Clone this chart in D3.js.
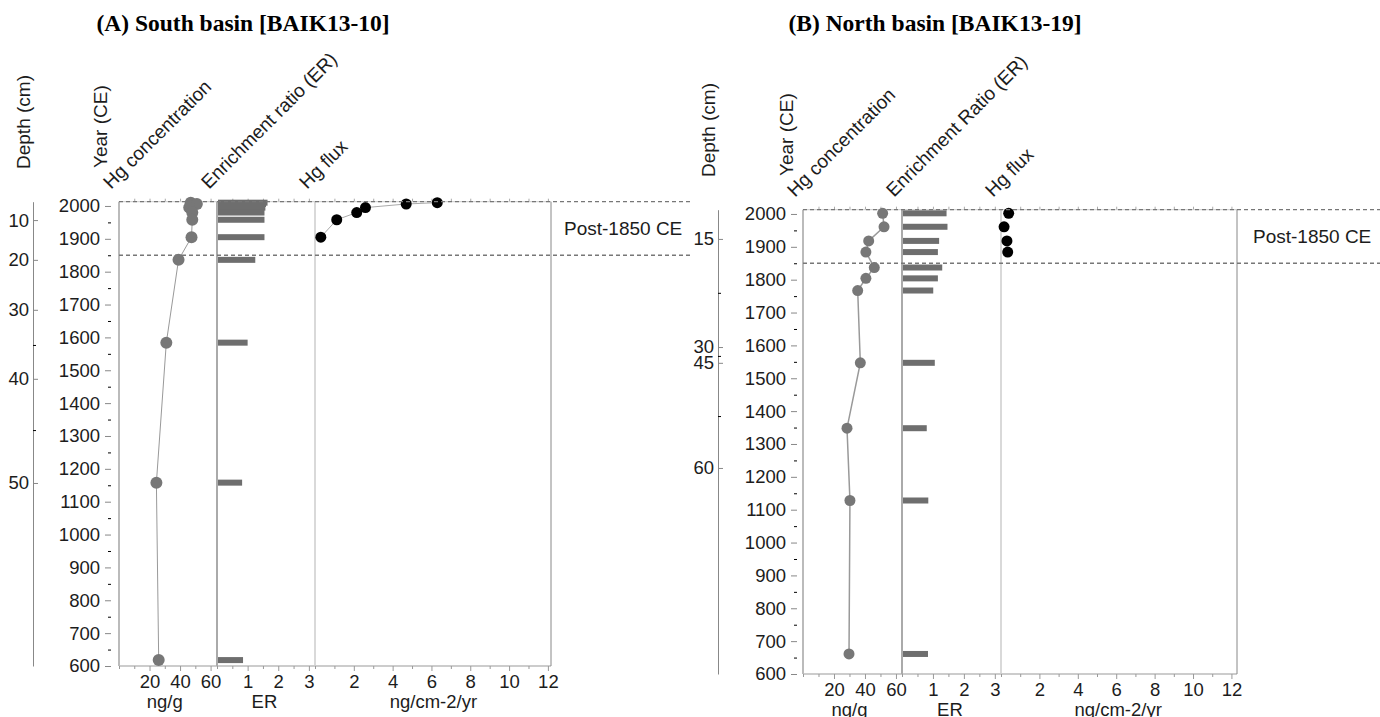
<!DOCTYPE html>
<html>
<head>
<meta charset="utf-8">
<script src="https://cdn.jsdelivr.net/npm/d3@7"></script>
<style>
    body { margin: 0; background: #fff; }
    svg text { font-family: "Liberation Sans", Arial, sans-serif; fill: #1c1c1c; }
    svg .title { font-family: "Liberation Serif", "Times New Roman", serif; font-weight: bold; fill: #000; }
</style>
</head>
<body>
<svg id="chart" width="1380" height="717"></svg>
<script>

// ---- data ----
var yearTicks = [600, 700, 800, 900, 1000, 1100, 1200, 1300, 1400, 1500, 1600, 1700, 1800, 1900, 2000];
var hgTicks = [20, 40, 60];
var erTicks = [1, 2, 3];
var fluxTicks = [2, 4, 6, 8, 10, 12];

// south basin, BAIK13-10
var southYears = [2010, 2006, 1995, 1980, 1958, 1905, 1836, 1584, 1158, 618];
var southHg = [47, 51, 46, 48, 48, 47.5, 39, 31, 24.5, 26];
var southER = [1.65, 1.6, 1.58, 1.55, 1.55, 1.55, 1.25, 1.0, 0.82, 0.85];
var southFluxYears = [2010, 2006, 1995, 1980, 1958, 1905];
var southFlux = [6.3, 4.7, 2.6, 2.15, 1.12, 0.3];
var southDepthLabels = [10, 20, 30, 40, 50];
var southDepthYears = [1957, 1836, 1684, 1474, 1157];
var southDepthMinorYears = [1577, 1318];

// north basin, BAIK13-19
var northYears = [2002, 1961, 1918, 1884, 1837, 1804, 1767, 1547, 1348, 1128, 661];
var northHg = [51.4, 52.3, 42.4, 40.6, 46, 40.6, 35.3, 37, 28.4, 30.3, 29.7];
var northER = [1.44, 1.47, 1.2, 1.16, 1.3, 1.16, 1.01, 1.06, 0.8, 0.85, 0.84];
var northFluxYears = [2002, 1961, 1918, 1884];
var northFlux = [0.4, 0.16, 0.31, 0.35];
var northDepthLabels = [15, 30, 45, 60];
var northDepthYears = [1924, 1595, 1547, 1227];
var northDepthMinorYears = [1760, 1568, 1385];

var coreTop = 2013;
var post1850 = 1850;

var svg = d3.select('#chart');

function drawPanel(p) {

    var g = svg.append('g');

    var y = d3.scaleLinear().domain([600, coreTop]).range([p.bottom, p.bottom - (coreTop - 600) * 0.3286]);
    var top = y(coreTop);

    var xHg = d3.scaleLinear().domain([0, p.hgMax]).range([p.x0, p.x1]);
    var xER = d3.scaleLinear().domain([0, 3.2]).range([p.x1, p.x2]);
    var xFlux = d3.scaleLinear().domain([0, p.fluxMax]).range([p.x2, p.x3]);

    // title
    g.append('text')
        .attr('class', 'title')
        .attr('x', p.titleX)
        .attr('y', 31)
        .attr('text-anchor', 'middle')
        .style('font-size', '23.5px')
        .text(p.title);

    // vertical headers
    g.append('text')
        .attr('transform', 'translate(' + p.depthLabelX + ',' + (p.bottom - 497) + ') rotate(-90)')
        .style('font-size', '19px')
        .text('Depth (cm)');
    g.append('text')
        .attr('transform', 'translate(' + p.yearLabelX + ',' + (p.bottom - 498) + ') rotate(-90)')
        .style('font-size', '19px')
        .text('Year (CE)');

    // slanted headers
    var heads = [
        { text: 'Hg concentration', x: p.x0 - 8 },
        { text: p.erTitle, x: p.x1 - 8 },
        { text: 'Hg flux', x: p.x2 - 8 }
    ];
    g.selectAll('.head')
        .data(heads)
        .enter().append('text')
        .attr('class', 'head')
        .attr('transform', d => 'translate(' + d.x + ',' + (top - 12) + ') rotate(-45)')
        .style('font-size', '19px')
        .text(d => d.text);

    // depth axis
    var depthAxis = g.append('g')
        .attr('transform', 'translate(' + p.depthX + ',0)')
        .call(d3.axisLeft(y)
            .tickValues(p.depthYears)
            .tickFormat((d, i) => p.depthLabels[i])
            .tickSizeInner(-5)
            .tickSizeOuter(0)
            .tickPadding(4));
    g.append('g')
        .attr('transform', 'translate(' + p.depthX + ',0)')
        .call(d3.axisLeft(y).tickValues(p.depthMinor).tickFormat('').tickSizeInner(-3).tickSizeOuter(0))
        .select('.domain').remove();

    // year axis
    var yearAxis = g.append('g')
        .attr('transform', 'translate(' + p.yearX + ',0)')
        .call(d3.axisLeft(y)
            .tickValues(yearTicks)
            .tickFormat(d3.format('d'))
            .tickSize(6)
            .tickPadding(5));
    yearAxis.select('.domain').remove();
    g.append('g')
        .attr('transform', 'translate(' + p.yearX + ',0)')
        .call(d3.axisLeft(y).tickValues(d3.range(650, 2000, 100)).tickFormat('').tickSize(3))
        .select('.domain').remove();

    [depthAxis, yearAxis].forEach(function (a) {
        a.selectAll('text').style('font-size', '18.5px').style('font-family', null).attr('fill', '#1c1c1c');
        a.selectAll('line').attr('stroke', '#888');
        a.selectAll('.domain').attr('stroke', '#888');
    });

    // bottom and top tick axes for the three tracks
    var tracks = [
        { x: xHg, major: hgTicks, minor: [10, 30, 50] },
        { x: xER, major: erTicks, minor: [0.5, 1.5, 2.5] },
        { x: xFlux, major: fluxTicks, minor: [1, 3, 5, 7, 9, 11] }
    ];
    tracks.forEach(function (t) {
        var b = g.append('g')
            .attr('transform', 'translate(0,' + p.bottom + ')')
            .call(d3.axisBottom(t.x).tickValues(t.major).tickFormat(d3.format('d')).tickSize(5).tickPadding(4));
        b.select('.domain').remove();
        b.selectAll('text').style('font-size', '18.5px').style('font-family', null).attr('fill', '#1c1c1c');
        b.selectAll('line').attr('stroke', '#999');

        g.append('g')
            .attr('transform', 'translate(0,' + p.bottom + ')')
            .call(d3.axisBottom(t.x).tickValues(t.minor.concat([0])).tickFormat('').tickSize(3))
            .call(s => s.select('.domain').remove())
            .selectAll('line').attr('stroke', '#999');

        g.append('g')
            .attr('transform', 'translate(0,' + top + ')')
            .call(d3.axisTop(t.x).tickValues(t.major.concat(t.minor)).tickFormat('').tickSize(3))
            .call(s => s.select('.domain').remove())
            .selectAll('line').attr('stroke', '#aaa');
    });

    // units
    var units = [
        { text: 'ng/g', x: xHg(30) },
        { text: 'ER', x: xER(1.55) },
        { text: 'ng/cm-2/yr', x: xFlux(6.1) }
    ];
    g.selectAll('.unit')
        .data(units)
        .enter().append('text')
        .attr('class', 'unit')
        .attr('x', d => d.x)
        .attr('y', p.bottom + 42)
        .attr('text-anchor', 'middle')
        .style('font-size', '18.5px')
        .text(d => d.text);

    // frame
    g.append('line').attr('x1', p.x0).attr('x2', p.x3).attr('y1', p.bottom).attr('y2', p.bottom)
        .attr('stroke', '#999').attr('stroke-width', 1);
    g.append('line').attr('x1', p.x0).attr('x2', p.x3).attr('y1', top).attr('y2', top)
        .attr('stroke', '#ccc').attr('stroke-width', 1);
    var borders = [
        { x: p.x0, c: '#bbb', w: 2 },
        { x: p.x1, c: '#aaa', w: 2 },
        { x: p.x2, c: '#ccc', w: 1.5 },
        { x: p.x3, c: '#888', w: 1 }
    ];
    g.selectAll('.border')
        .data(borders)
        .enter().append('line')
        .attr('x1', d => d.x).attr('x2', d => d.x)
        .attr('y1', top).attr('y2', p.bottom)
        .attr('stroke', d => d.c)
        .attr('stroke-width', d => d.w);

    // ER bars
    g.selectAll('.er')
        .data(p.er)
        .enter().append('rect')
        .attr('x', xER(0) + 1)
        .attr('y', (d, i) => y(p.years[i]) - 3)
        .attr('width', d => xER(d) - xER(0) - 1)
        .attr('height', 6)
        .attr('fill', '#6e6e6e');

    // Hg concentration
    var hgPts = p.years.map((yr, i) => [yr, p.hg[i]]);
    g.append('path')
        .datum(hgPts)
        .attr('fill', 'none')
        .attr('stroke', '#999')
        .attr('stroke-width', p.lineWidth)
        .attr('d', d3.line().x(d => xHg(d[1])).y(d => y(d[0])));
    g.selectAll('.hg')
        .data(hgPts)
        .enter().append('circle')
        .attr('cx', d => xHg(d[1]))
        .attr('cy', d => y(d[0]))
        .attr('r', p.r)
        .attr('fill', '#777');

    // Hg flux
    var fluxPts = p.fluxYears.map((yr, i) => [yr, p.flux[i]]);
    if (p.fluxLine) {
        g.append('path')
            .datum(fluxPts)
            .attr('fill', 'none')
            .attr('stroke', '#aaa')
            .attr('stroke-width', 1)
            .attr('d', d3.line().x(d => xFlux(d[1])).y(d => y(d[0])));
    }
    g.selectAll('.flux')
        .data(fluxPts)
        .enter().append('circle')
        .attr('cx', d => xFlux(d[1]))
        .attr('cy', d => y(d[0]))
        .attr('r', 5.5)
        .attr('fill', '#000');

    // post-1850 band
    g.selectAll('.dash')
        .data([coreTop, post1850])
        .enter().append('line')
        .attr('x1', p.x0).attr('x2', p.dashEnd)
        .attr('y1', d => y(d)).attr('y2', d => y(d))
        .attr('stroke', '#777')
        .attr('stroke-width', 1.3)
        .attr('stroke-dasharray', '4,3');

    g.append('text')
        .attr('x', p.postX)
        .attr('y', (y(coreTop) + y(post1850)) / 2 + 7)
        .style('font-size', '19px')
        .text('Post-1850 CE');
}

drawPanel({
    title: '(A) South basin [BAIK13-10]', titleX: 243,
    erTitle: 'Enrichment ratio (ER)',
    bottom: 666, x0: 119, x1: 217, x2: 315, x3: 551,
    hgMax: 64.2, fluxMax: 12.16,
    depthX: 33, depthLabelX: 30, yearX: 111, yearLabelX: 107,
    years: southYears, hg: southHg, er: southER,
    fluxYears: southFluxYears, flux: southFlux, fluxLine: true,
    depthLabels: southDepthLabels, depthYears: southDepthYears, depthMinor: southDepthMinorYears,
    r: 6, lineWidth: 1, dashEnd: 690, postX: 564
});

drawPanel({
    title: '(B) North basin [BAIK13-19]', titleX: 935,
    erTitle: 'Enrichment Ratio (ER)',
    bottom: 674, x0: 803, x1: 902, x2: 1001, x3: 1237,
    hgMax: 63.9, fluxMax: 12.29,
    depthX: 718, depthLabelX: 715, yearX: 797, yearLabelX: 793,
    years: northYears, hg: northHg, er: northER,
    fluxYears: northFluxYears, flux: northFlux, fluxLine: false,
    depthLabels: northDepthLabels, depthYears: northDepthYears, depthMinor: northDepthMinorYears,
    r: 5.5, lineWidth: 1.5, dashEnd: 1380, postX: 1253
});

</script>
</body>
</html>
